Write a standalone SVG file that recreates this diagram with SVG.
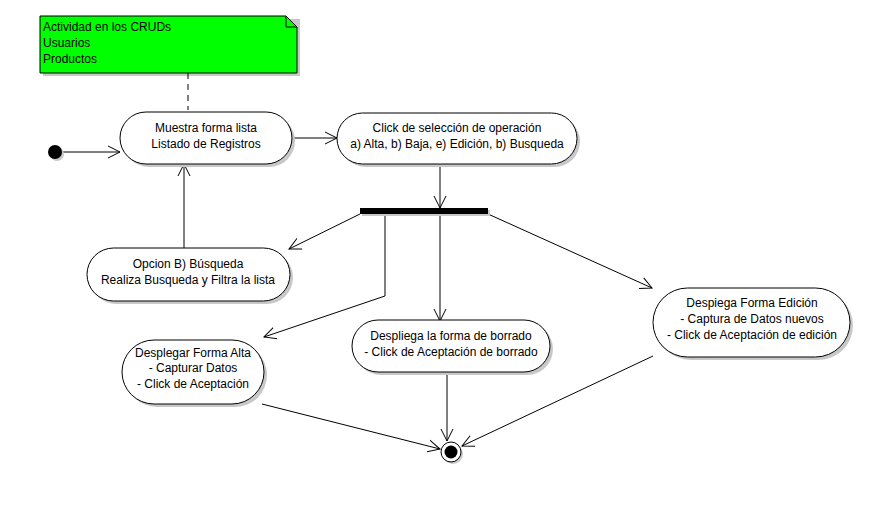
<svg xmlns="http://www.w3.org/2000/svg" width="894" height="528" viewBox="0 0 894 528">
<defs>
<style>
text{font-family:"Liberation Sans",Arial,sans-serif;font-size:12px;fill:#000}
.c{text-anchor:middle}
.act{fill:#fff;stroke:#000;stroke-width:1}
.sh{fill:#c8c8c8;stroke:none}
.ln{fill:none;stroke:#000;stroke-width:1}
</style>
<marker id="a" markerUnits="userSpaceOnUse" markerWidth="14" markerHeight="14" refX="12" refY="6" orient="auto" viewBox="0 0 14 12">
<path d="M0,0 L12,6 L0,12" fill="none" stroke="#000" stroke-width="1"/>
</marker>
</defs>
<rect width="894" height="528" fill="#fff"/>

<g id="note">
<polygon points="43,19 300,19 300,76 43,76" class="sh"/>
<polygon points="40,16 286,16 297,27 297,73 40,73" fill="#00ff00" stroke="#000"/>
<polyline points="286,16 286,27 297,27" class="ln"/>
<text x="43" y="31">Actividad en los CRUDs</text>
<text x="43" y="47">Usuarios</text>
<text x="43" y="63">Productos</text>
</g>

<g id="connectors">
<line x1="188" y1="73" x2="188" y2="110" class="ln" stroke-dasharray="6,5"/>
<line x1="62" y1="152" x2="120" y2="152" class="ln" marker-end="url(#a)"/>
<line x1="293" y1="138" x2="337" y2="138" class="ln" marker-end="url(#a)"/>
<line x1="440" y1="164" x2="440" y2="208" class="ln" marker-end="url(#a)"/>
<line x1="360" y1="214" x2="289" y2="249" class="ln" marker-end="url(#a)"/>
<polyline points="385,214 385,296 264,337" class="ln" marker-end="url(#a)"/>
<line x1="440" y1="214" x2="440" y2="321" class="ln" marker-end="url(#a)"/>
<line x1="488" y1="214" x2="652" y2="288" class="ln" marker-end="url(#a)"/>
<line x1="184" y1="248" x2="184" y2="164" class="ln" marker-end="url(#a)"/>
<line x1="447" y1="372" x2="447" y2="441" class="ln" marker-end="url(#a)"/>
<line x1="262" y1="404" x2="440" y2="449" class="ln" marker-end="url(#a)"/>
<line x1="653" y1="356" x2="462" y2="446" class="ln" marker-end="url(#a)"/>
</g>

<g id="start">
<circle cx="57" cy="154" r="7" class="sh"/>
<circle cx="55" cy="152" r="7" fill="#000"/>
</g>

<g id="muestra">
<rect x="123" y="115" width="172" height="52" rx="26" class="sh"/>
<rect x="120" y="112" width="172" height="52" rx="26" class="act"/>
<text x="206" y="132" class="c">Muestra forma lista</text>
<text x="206" y="148" class="c">Listado de Registros</text>
</g>

<g id="click">
<rect x="340" y="116" width="240" height="51" rx="25.5" class="sh"/>
<rect x="337" y="113" width="240" height="51" rx="25.5" class="act"/>
<text x="457" y="132" class="c">Click de selección de operación</text>
<text x="457" y="148" class="c">a) Alta, b) Baja, e) Edición, b) Busqueda</text>
</g>

<g id="fork">
<rect x="362" y="210" width="128" height="6" class="sh"/>
<rect x="360" y="208" width="128" height="6" fill="#000"/>
</g>

<g id="busqueda">
<rect x="90" y="251" width="203" height="53" rx="26.5" class="sh"/>
<rect x="87" y="248" width="203" height="53" rx="26.5" class="act"/>
<text x="188" y="268" class="c">Opcion B) Búsqueda</text>
<text x="188" y="284" class="c">Realiza Busqueda y Filtra la lista</text>
</g>

<g id="alta">
<rect x="125" y="343" width="142" height="64" rx="32" class="sh"/>
<rect x="122" y="340" width="142" height="64" rx="32" class="act"/>
<text x="193" y="357" class="c">Desplegar Forma Alta</text>
<text x="193" y="372" class="c">- Capturar Datos</text>
<text x="193" y="388" class="c">- Click de Aceptación</text>
</g>

<g id="borrado">
<rect x="355" y="323" width="198" height="52" rx="26" class="sh"/>
<rect x="352" y="320" width="198" height="52" rx="26" class="act"/>
<text x="451" y="340" class="c">Despliega la forma de borrado</text>
<text x="451" y="356" class="c">- Click de Aceptación de borrado</text>
</g>

<g id="edicion">
<rect x="656" y="291" width="197" height="69" rx="34.5" class="sh"/>
<rect x="653" y="288" width="197" height="69" rx="34.5" class="act"/>
<text x="752" y="307" class="c">Despiega Forma Edición</text>
<text x="752" y="323" class="c">- Captura de Datos nuevos</text>
<text x="752" y="339" class="c">- Click de Aceptación de edición</text>
</g>

<g id="end">
<circle cx="453" cy="454" r="10" class="sh"/>
<circle cx="451" cy="452" r="10" fill="#fff" stroke="#000"/>
<circle cx="451" cy="452" r="6.5" fill="#000"/>
</g>
</svg>
